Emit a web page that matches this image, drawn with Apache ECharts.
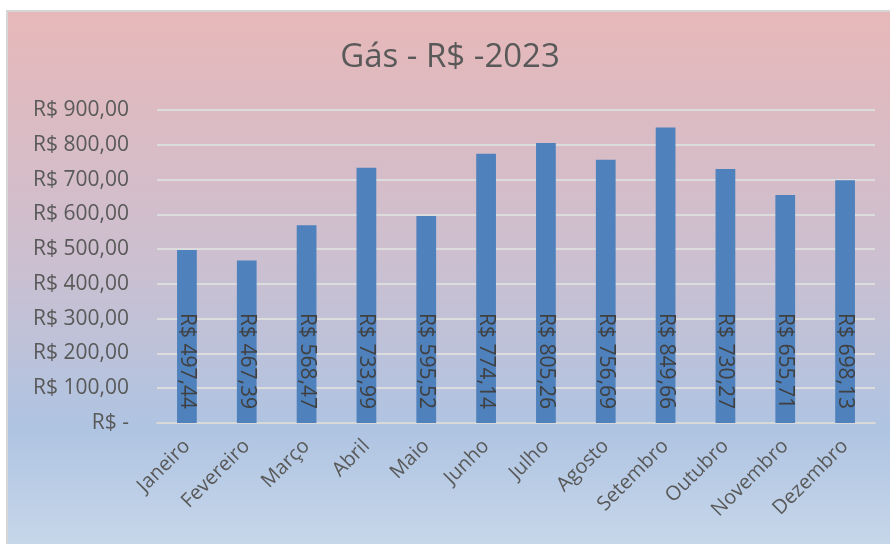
<!DOCTYPE html>
<html>
<head>
<meta charset="utf-8">
<script src="https://cdn.jsdelivr.net/npm/echarts@6/dist/echarts.min.js"></script>
<style>
  html, body { margin: 0; padding: 0; background: #ffffff; }
  #gasChart {
    position: absolute;
    left: 6px;
    top: 10px;
    width: 884px;
    height: 534px;
    border-left: 2px solid #d6d6d6;
    border-top: 2px solid #d6d6d6;
  }
</style>
</head>
<body>
<div id="gasChart"></div>
<script>
// dados do gráfico
const meses = ['Janeiro', 'Fevereiro', 'Março', 'Abril', 'Maio', 'Junho', 'Julho', 'Agosto', 'Setembro', 'Outubro', 'Novembro', 'Dezembro'];
const valores = [497.44, 467.39, 568.47, 733.99, 595.52, 774.14, 805.26, 756.69, 849.66, 730.27, 655.71, 698.13];
const titulo = 'Gás - R$ -2023';

function moeda (v) {
  return 'R$ ' + Number(v).toFixed(2).replace('.', ',');
}

const myChart = echarts.init(document.getElementById('gasChart'));
myChart.setOption({
  backgroundColor: {
    type: 'linear', x: 0, y: 0, x2: 0, y2: 1,
    colorStops: [
      { offset: 0, color: '#e7b8b9' },
      { offset: 0.45, color: '#cdbfcf' },
      { offset: 0.78, color: '#afc4e2' },
      { offset: 1, color: '#c7d7ea' }
    ]
  },
  title: {
    text: titulo,
    left: 'center',
    top: 24,
    textStyle: {
      color: '#595959',
      fontFamily: 'Open Sans',
      fontWeight: 'normal',
      fontSize: 33
    }
  },
  grid: {
    left: 149,
    right: 17,
    top: 98,
    bottom: 123
  },
  xAxis: {
    type: 'category',
    data: meses,
    axisLine: { lineStyle: { color: '#d9d9d9', width: 2 } },
    axisTick: { show: false },
    axisLabel: {
      rotate: 45,
      margin: 20,
      color: '#595959',
      fontFamily: 'Open Sans',
      fontSize: 20,
      interval: 0
    }
  },
  yAxis: {
    type: 'value',
    min: 0,
    max: 900,
    interval: 100,
    axisLine: { show: false },
    axisTick: { show: false },
    splitLine: { lineStyle: { color: '#dcdcdc', width: 2 } },
    axisLabel: {
      margin: 28,
      color: '#595959',
      fontFamily: 'Open Sans',
      fontSize: 21,
      formatter: function (v) {
        return v === 0 ? 'R$ -' : moeda(v);
      }
    }
  },
  series: [
    {
      type: 'bar',
      data: valores,
      barWidth: '33%',
      itemStyle: { color: '#4f81bd' },
      label: {
        show: true,
        position: 'insideBottom',
        rotate: -90,
        align: 'right',
        verticalAlign: 'middle',
        distance: 14,
        color: '#404040',
        fontFamily: 'Open Sans',
        fontSize: 21,
        formatter: function (p) {
          return moeda(p.value);
        }
      }
    }
  ]
});
</script>
</body>
</html>
